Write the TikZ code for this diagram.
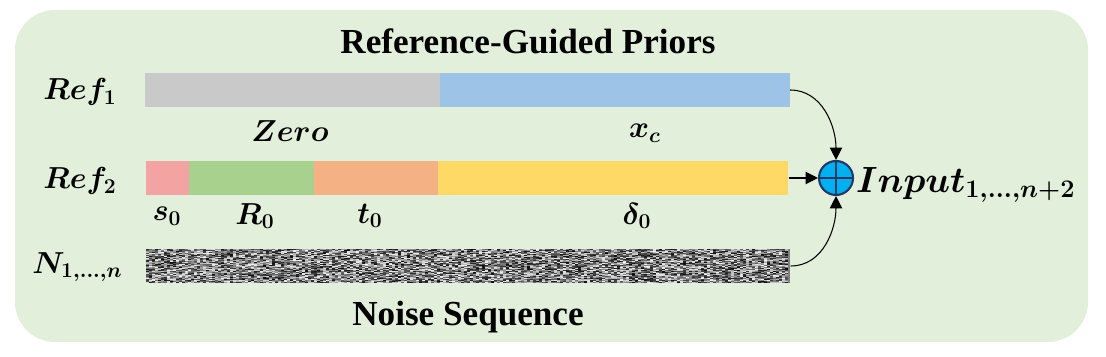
\documentclass[tikz,border=0pt]{standalone}
\usepackage{amsmath,amssymb}
\usepackage{fontspec}
\newfontfamily\headfont{LiberationSerif-Bold.ttf}
\usepackage{tikz}
\usetikzlibrary{arrows.meta, positioning, calc}
\usepackage{xcolor}

\definecolor{panelgreen}{HTML}{E2EFDA}
\definecolor{zerogray}{HTML}{C9C9C9}
\definecolor{xcblue}{HTML}{9DC3E6}
\definecolor{spink}{HTML}{F4A3A3}
\definecolor{rgreen}{HTML}{A9D18E}
\definecolor{torange}{HTML}{F4B183}
\definecolor{dyellow}{HTML}{FFD966}
\definecolor{sumblue}{HTML}{00B0F0}
\definecolor{sumnavy}{HTML}{1F3864}

\tikzset{
  bar/.style={inner sep=0pt, minimum height=0.68cm, anchor=west},
  rowlbl/.style={font=\fontsize{18}{20}\selectfont\boldmath},
  seglbl/.style={font=\fontsize{18}{20}\selectfont\boldmath},
  heading/.style={font=\fontsize{20}{22}\selectfont\headfont},
  link/.style={-{Triangle[length=7pt,width=7pt]}, semithick}
}

\begin{document}
\begin{tikzpicture}
  \useasboundingbox (0,0) rectangle (22.12,7.14);
  % Panel
  \fill[panelgreen, rounded corners=0.8cm] (0.3,0.3) rectangle (21.76,6.94);

  % Titles
  \node[heading] (title) at (10.56,6.32) {Reference-Guided Priors};
  \node[heading] (noisetitle) at (9.36,0.8) {Noise Sequence};

  % Row labels
  \node[rowlbl] (ref1) at (1.6,5.3) {$Ref_{\mathbf{1}}$};
  \node[rowlbl] (ref2) at (1.6,3.52) {$Ref_{\mathbf{2}}$};
  \node[rowlbl] (nseq) at (1.55,1.8) {$N_{\mathbf{1},\dots,n}$};

  % Ref_1 bar
  \node[bar, fill=zerogray, minimum width=5.9cm] (zero) at (2.9,5.34) {};
  \node[bar, fill=xcblue, minimum width=7cm, right=-0.8pt of zero] (xc) {};

  % Ref_2 bar
  \node[bar, fill=spink, minimum width=0.86cm] (s0) at (2.92,3.58) {};
  \node[bar, fill=rgreen, minimum width=2.52cm, right=-0.8pt of s0] (r0) {};
  \node[bar, fill=torange, minimum width=2.5cm, right=-0.8pt of r0] (t0) {};
  \node[bar, fill=dyellow, minimum width=7cm, right=-0.8pt of t0] (delta) {};

  % Noise bar
  \node[bar, fill=black!50, minimum width=12.88cm] (noise) at (2.92,1.82) {};
  \pgfmathsetseed{17}
  \foreach \i in {0,...,213}{
    \foreach \j in {0,...,33}{
      \pgfmathsetmacro{\g}{int(random(5,95))}
      \fill[black!\g] ($(noise.south west)+(\i*0.06,\j*0.02)$) rectangle ++(0.06,0.02);
    }
  }

  % Segment labels
  \node[seglbl] (zerolbl) at (5.8,4.52) {$Zero$};
  \node[seglbl] (xclbl) at (12.9,4.48) {$x_c$};
  \node[seglbl] (s0lbl) at (3.34,2.82) {$s_{\mathbf{0}}$};
  \node[seglbl] (r0lbl) at (5.1,2.82) {$R_{\mathbf{0}}$};
  \node[seglbl] (t0lbl) at (7.4,2.82) {$t_{\mathbf{0}}$};
  \node[seglbl] (deltalbl) at (12.74,2.82) {$\delta_{\mathbf{0}}$};

  % Sum
  \node[circle, draw=sumnavy, line width=1.2pt, fill=sumblue, minimum size=0.68cm, inner sep=0pt] (sum) at (16.72,3.58) {};
  \draw[sumnavy, line width=1.2pt] (sum.north) -- (sum.south) (sum.west) -- (sum.east);
  \node[font=\fontsize{22}{26}\selectfont\boldmath, anchor=west, inner sep=1pt] (input) at ([yshift=-0.14cm]sum.east) {$Input_{\mathbf{1},\dots,n+\mathbf{2}}$};

  % Links
  \draw[link] (xc.east) to[out=0, in=90] (sum.north);
  \draw[link] (delta.east) -- (sum.west);
  \draw[link] (noise.east) to[out=0, in=-90] (sum.south);
\end{tikzpicture}
\end{document}
